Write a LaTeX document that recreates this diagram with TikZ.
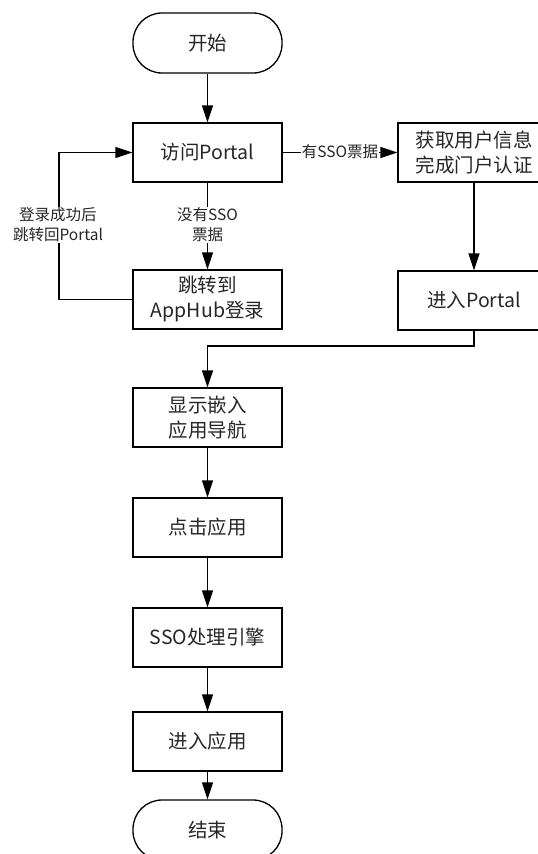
\documentclass[tikz,border=0pt]{standalone}
\usepackage{fontspec}
\setmainfont{Noto Sans CJK SC}
\usetikzlibrary{arrows.meta}
\tikzset{
  box/.style={draw, line width=1.3pt, minimum width=149pt, minimum height=59pt, inner sep=2pt, align=center, font=\fontsize{19.5}{25}\selectfont, text=black!85},
  term/.style={box, rounded corners=29pt, minimum height=60pt},
  lbl/.style={fill=white, inner sep=1pt, align=center, font=\fontsize{15.5}{20}\selectfont, text=black!85},
  arr/.style={line width=1.3pt, -{Triangle[length=17pt, width=11pt]}},
  ln/.style={line width=1.3pt}
}
\begin{document}
\begin{tikzpicture}[x=1pt, y=-1pt]
\useasboundingbox (0,0) rectangle (538,854);
\clip (0,0) rectangle (538,854);
\node[term] (start) at (207.5,43) {开始};
\node[box] (visit) at (207.5,152.5) {访问Portal};
\node[box] (apphub) at (207.5,299.5) {跳转到\\AppHub登录};
\node[box, minimum width=152pt] (info) at (474,152.5) {获取用户信息\\完成门户认证};
\node[box, minimum width=152pt] (enter) at (474,300.5) {进入Portal};
\node[box] (show) at (207.5,417.5) {显示嵌入\\应用导航};
\node[box] (click) at (207.5,527.5) {点击应用};
\node[box] (sso) at (207.5,637.5) {SSO处理引擎};
\node[box] (enterapp) at (207.5,741.5) {进入应用};
\node[term] (end) at (207.5,830) {结束};

\coordinate (lp) at (59,0);
\coordinate (bend) at (0,346);

\draw[arr] (start) -- (visit);
\draw[arr] (visit) -- (apphub);
\draw[arr] (visit) -- (info);
\draw[arr] (info) -- (enter);
\draw[arr] (apphub.west) -- (apphub.west -| lp) -- (visit.west -| lp) -- (visit.west);
\draw[arr] (enter.south) -- (enter.south |- bend) -- (show.north |- bend) -- (show.north);
\draw[arr] (show) -- (click);
\draw[arr] (click) -- (sso);
\draw[arr] (sso) -- (enterapp);
\draw[arr] (enterapp) -- (end);

\node[lbl] (l1) at (340,152) {有SSO票据};
\node[lbl] (l2) at (207.5,225) {没有SSO\\票据};
\node[lbl] (l3) at (58,225) {登录成功后\\跳转回Portal};
\end{tikzpicture}
\end{document}
